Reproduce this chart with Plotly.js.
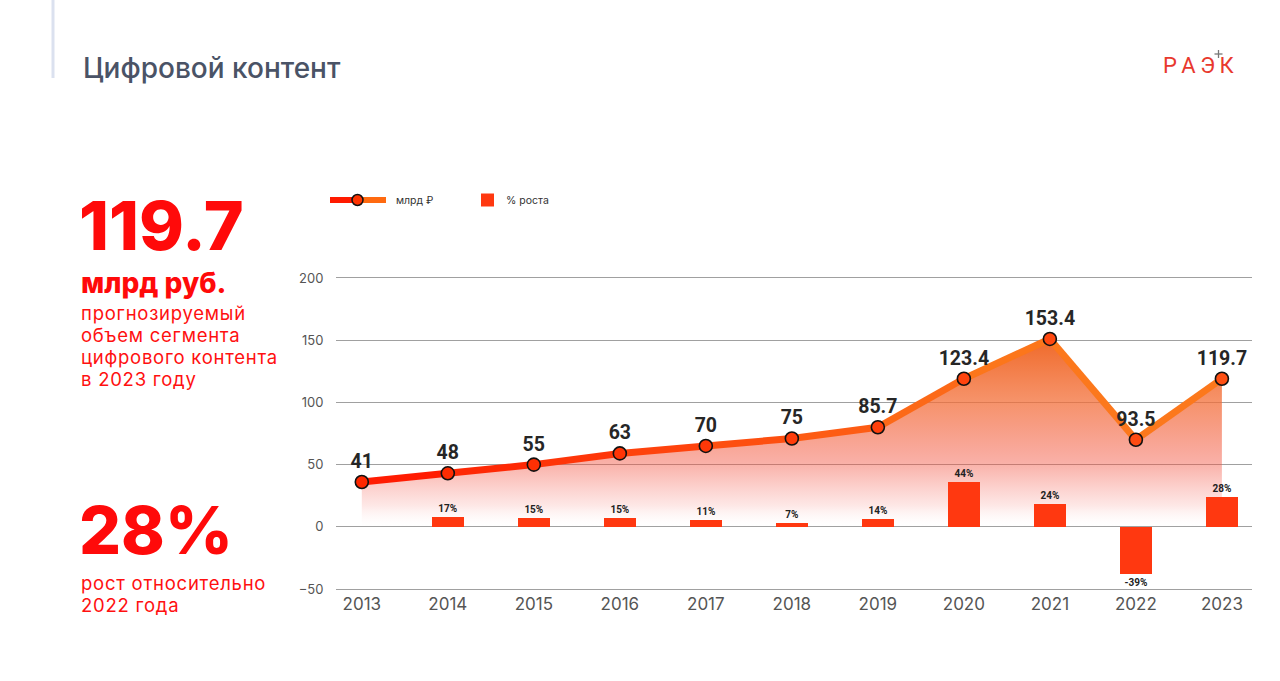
<!DOCTYPE html>
<html>
<head>
<meta charset="utf-8">
<script src="https://cdn.plot.ly/plotly-3.0.1.min.js"></script>
<style>
  html, body { margin: 0; padding: 0; background: #ffffff; }
  #chart { width: 1280px; height: 681px; }
  text.annotation-text[style*="18.5px"] { letter-spacing: 0.75px; }
</style>
</head>
<body>
<div id="chart"></div>
<script>
// ---- data ----
const years = [2013, 2014, 2015, 2016, 2017, 2018, 2019, 2020, 2021, 2022, 2023];
// market volume, bn RUB: values as drawn on the chart and their printed labels
const volumeDrawn  = [36, 43, 50, 59, 65, 71, 80, 119, 151, 70, 119];
const volumeLabels = ['41', '48', '55', '63', '70', '75', '85.7', '123.4', '153.4', '93.5', '119.7'];
// growth, %: bar heights as drawn and their printed labels
const growthDrawn  = [null, 8, 7, 7, 5.6, 3.2, 6.4, 36, 18.5, -38, 24];
const growthLabels = ['', '17%', '15%', '15%', '11%', '7%', '14%', '44%', '24%', '-39%', '28%'];
const yTicks = [-50, 0, 50, 100, 150, 200];

// ---- helpers for layout decoration (pixel -> paper) ----
const W = 1280, H = 681;
const px = x => x / W;
const py = y => 1 - y / H;

function mix(c1, c2, t) {
  const r = Math.round(c1[0] + (c2[0] - c1[0]) * t);
  const g = Math.round(c1[1] + (c2[1] - c1[1]) * t);
  const b = Math.round(c1[2] + (c2[2] - c1[2]) * t);
  return `rgb(${r},${g},${b})`;
}
const RED = [255, 22, 0], ORANGE = [252, 120, 28];

const traces = [];

// gradient area under the line
traces.push({
  type: 'scatter', mode: 'lines', x: years, y: volumeDrawn,
  xaxis: 'x', yaxis: 'y',
  line: { width: 0, color: 'rgba(0,0,0,0)' },
  fill: 'tozeroy',
  fillgradient: {
    type: 'vertical', start: -2, stop: 155,
    colorscale: [
      [0, 'rgba(255,255,255,0)'],
      [0.12, 'rgba(245,90,80,0.14)'],
      [0.34, 'rgba(242,80,60,0.45)'],
      [0.66, 'rgba(243,110,55,0.75)'],
      [1, 'rgba(238,95,25,0.96)']
    ]
  },
  hoverinfo: 'skip', showlegend: false
});

// growth bars
traces.push({
  type: 'bar', x: years, y: growthDrawn,
  xaxis: 'x', yaxis: 'y2',
  width: 0.37,
  marker: { color: '#ff3810', line: { width: 0 } },
  text: growthLabels, textposition: 'outside', cliponaxis: false,
  textfont: { family: 'Roboto, sans-serif', size: 10, color: '#222', weight: 700 },
  showlegend: false, hoverinfo: 'skip'
});

// line drawn segment by segment for a red-to-orange gradient
for (let i = 0; i < years.length - 1; i++) {
  const t = (i + 0.5) / (years.length - 1);
  traces.push({
    type: 'scatter', mode: 'lines',
    x: [years[i], years[i + 1]], y: [volumeDrawn[i], volumeDrawn[i + 1]],
    xaxis: 'x', yaxis: 'y2',
    line: { width: 7, color: mix(RED, ORANGE, Math.min(1, t * 1.3)) },
    showlegend: false, hoverinfo: 'skip'
  });
}

// markers with value labels
traces.push({
  type: 'scatter', mode: 'markers+text', x: years, y: volumeDrawn,
  xaxis: 'x', yaxis: 'y2',
  marker: { size: 13, color: years.map((_, i) => mix([255, 40, 0], [255, 80, 20], i / 10)), line: { color: '#111', width: 1.6 } },
  text: volumeLabels, textposition: 'top center', cliponaxis: false,
  textfont: { family: 'Roboto, sans-serif', size: 19.5, color: '#262626', weight: 700 },
  showlegend: false, hoverinfo: 'skip'
});

const xDomain = [px(336), px(1252)];
const yDomain = [py(591.5), py(275.5)];
const yRange = [-52, 202];

const bodyFont = { family: 'Inter, sans-serif', size: 18.5, color: '#ff1010' };
const annotations = [
  // title
  { text: 'Цифровой контент', x: px(81), y: py(68), xanchor: 'left', yanchor: 'middle',
    font: { family: 'Inter, sans-serif', size: 28, color: '#4a5366', weight: 500 } },
  // logo
  { text: 'Р\u2009А\u2009Э\u2009К', x: px(1237), y: py(66), xanchor: 'right', yanchor: 'middle',
    font: { family: 'Roboto, sans-serif', size: 22, color: '#e8392e', weight: 400 } },
  // left big number
  { text: '119.7', x: px(77), y: py(225), xanchor: 'left', yanchor: 'middle',
    font: { family: 'Inter, sans-serif', size: 68, color: '#ff0a0a', weight: 800 } },
  { text: 'млрд руб.', x: px(79), y: py(283), xanchor: 'left', yanchor: 'middle',
    font: { family: 'Inter, sans-serif', size: 28, color: '#ff0a0a', weight: 800 } },
  // body text
  { text: 'прогнозируемый', x: px(79), y: py(313), xanchor: 'left', yanchor: 'middle', font: bodyFont },
  { text: 'объем сегмента', x: px(79), y: py(335), xanchor: 'left', yanchor: 'middle', font: bodyFont },
  { text: 'цифрового контента', x: px(79), y: py(357), xanchor: 'left', yanchor: 'middle', font: bodyFont },
  { text: 'в 2023 году', x: px(79), y: py(379), xanchor: 'left', yanchor: 'middle', font: bodyFont },
  // big percent
  { text: '28%', x: px(77), y: py(530), xanchor: 'left', yanchor: 'middle',
    font: { family: 'Inter, sans-serif', size: 66, color: '#ff0a0a', weight: 800 } },
  { text: 'рост относительно', x: px(79), y: py(583), xanchor: 'left', yanchor: 'middle', font: bodyFont },
  { text: '2022 года', x: px(79), y: py(605), xanchor: 'left', yanchor: 'middle', font: bodyFont },
  // legend texts
  { text: 'млрд ₽', x: px(394), y: py(200), xanchor: 'left', yanchor: 'middle',
    font: { family: 'Inter, sans-serif', size: 10.5, color: '#333' } },
  { text: '% роста', x: px(504), y: py(200), xanchor: 'left', yanchor: 'middle',
    font: { family: 'Inter, sans-serif', size: 10.5, color: '#333' } }
].map(a => Object.assign({ xref: 'paper', yref: 'paper', showarrow: false }, a));

const shapes = [
  // left vertical accent bar
  { type: 'line', xref: 'paper', yref: 'paper', x0: px(53), x1: px(53), y0: py(0), y1: py(78),
    line: { color: '#dbe1ef', width: 3 } },
  // small plus of the logo
  { type: 'line', xref: 'paper', yref: 'paper', x0: px(1214.5), x1: px(1222.5), y0: py(54), y1: py(54),
    line: { color: '#777', width: 1.3 } },
  { type: 'line', xref: 'paper', yref: 'paper', x0: px(1218.5), x1: px(1218.5), y0: py(50), y1: py(58),
    line: { color: '#777', width: 1.3 } },
  // legend line icon
  { type: 'line', xref: 'paper', yref: 'paper', x0: px(330), x1: px(358), y0: py(200), y1: py(200),
    line: { color: '#ff1a00', width: 6 } },
  { type: 'line', xref: 'paper', yref: 'paper', x0: px(358), x1: px(386), y0: py(200), y1: py(200),
    line: { color: '#ff6a10', width: 6 } },
  { type: 'circle', xref: 'paper', yref: 'paper', x0: px(352), x1: px(363), y0: py(194.5), y1: py(205.5),
    fillcolor: '#ff3300', line: { color: '#111', width: 1.5 } },
  // legend square
  { type: 'rect', xref: 'paper', yref: 'paper', x0: px(481), x1: px(494), y0: py(193.5), y1: py(206.5),
    fillcolor: '#ff3810', line: { width: 0 } }
];

const layout = {
  width: W, height: H,
  margin: { l: 0, r: 0, t: 0, b: 0 },
  paper_bgcolor: '#ffffff', plot_bgcolor: 'rgba(0,0,0,0)',
  showlegend: false,
  bargap: 0,
  xaxis: {
    domain: xDomain, range: [2012.7, 2023.35],
    tickvals: years, ticktext: years.map(String),
    showgrid: false, zeroline: false, showline: false,
    ticks: '',
    tickfont: { family: 'Inter, sans-serif', size: 17, color: '#555' },
    fixedrange: true
  },
  yaxis: {
    domain: yDomain, range: yRange,
    tickvals: yTicks,
    showgrid: true, gridcolor: '#a0a0a0', gridwidth: 1,
    zeroline: false, showline: false,
    ticks: 'outside', ticklen: 9, tickcolor: 'rgba(0,0,0,0)',
    tickfont: { family: 'Inter, sans-serif', size: 13, color: '#555' },
    fixedrange: true
  },
  yaxis2: {
    overlaying: 'y', range: yRange, visible: false, fixedrange: true
  },
  annotations: annotations,
  shapes: shapes
};

Plotly.newPlot('chart', traces, layout, { staticPlot: true, displayModeBar: false });
</script>
</body>
</html>
